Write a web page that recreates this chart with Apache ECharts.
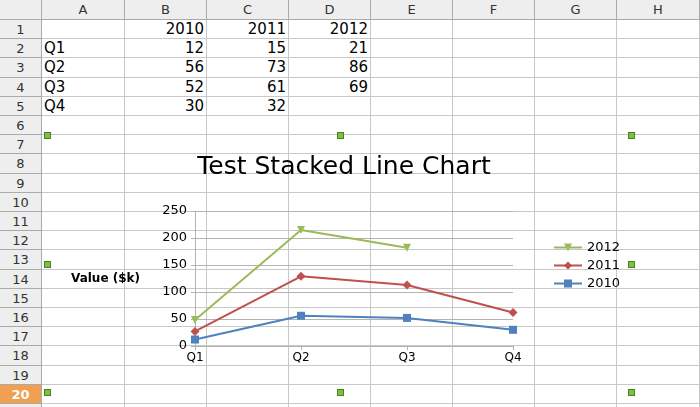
<!DOCTYPE html>
<html><head><meta charset="utf-8">
<script src="https://cdn.jsdelivr.net/npm/echarts@6/dist/echarts.min.js"></script>
<style>
body{margin:0;width:700px;height:407px;overflow:hidden;background:#fff;font-family:"DejaVu Sans",sans-serif;position:relative}
.c{position:absolute;box-sizing:border-box;border-right:1px solid #c8c8c8;border-bottom:1px solid #c8c8c8;font-size:15px;line-height:19px;white-space:nowrap;padding:0 2px;overflow:hidden}
.h{background:#eeeeee;color:#333;text-align:center;font-size:13px;border-color:#aaa}
.hs{background:#f0a050;color:#fff;font-weight:bold}
.hd{position:absolute;width:7px;height:7px;background:#7ec040;border:1px solid #4a8020;box-sizing:border-box;z-index:5}
#chart{position:absolute;left:0;top:0;width:700px;height:407px;z-index:3}
</style></head><body>
<div id="sheet"></div>
<div id="chart"></div>
<script>
const categories=['Q1','Q2','Q3','Q4'];
const years=['2010','2011','2012'];
const v2010=[12,56,52,30];
const v2011=[15,73,61,32];
const v2012=[21,86,69,null];
const yTicks=[0,50,100,150,200,250];

const sheet=document.getElementById('sheet');
const colX=[0,42,125,207,289,371,453,535,617,700];
const colNames=['','A','B','C','D','E','F','G','H'];
const rowH=19.2, top0=20;
function cell(x,y,w,h,txt,cls,align){const d=document.createElement('div');d.className='c '+(cls||'');d.style.left=x+'px';d.style.top=y+'px';d.style.width=w+'px';d.style.height=h+'px';if(align)d.style.textAlign=align;d.textContent=txt;sheet.appendChild(d);}
for(let i=0;i<9;i++)cell(colX[i],0,colX[i+1]-colX[i],top0,colNames[i],'h');
const table=[['',...years],...categories.map((q,i)=>[q,v2010[i],v2011[i],v2012[i]==null?'':v2012[i]])];
for(let r=1;r<=21;r++){
  const y=Math.round(top0+(r-1)*rowH), h=Math.round(top0+r*rowH)-y;
  cell(0,y,42,h,r<=20?String(r):'', r===20?'h hs':'h');
  for(let c=1;c<9;c++){
    let t='';const row=table[r-1];
    if(row&&c<=4){t=row[c-1]==null?'':String(row[c-1]);}
    cell(colX[c],y,colX[c+1]-colX[c],h,t,'',c===1?'left':'right');
  }
}
[[44,132],[337,132],[628,132],[44,261],[628,261],[44,389],[337,389],[628,389]].forEach(p=>{const d=document.createElement('div');d.className='hd';d.style.left=p[0]+'px';d.style.top=p[1]+'px';document.body.appendChild(d);});

const chart=echarts.init(document.getElementById('chart'),null,{renderer:'canvas'});
const colors={'2010':'#4f81bd','2011':'#c0504d','2012':'#9bbb59'};
const symbols={'2010':'rect','2011':'diamond','2012':'triangle'};
const vals={'2010':v2010,'2011':v2011,'2012':v2012};
chart.setOption({
  backgroundColor:'transparent',
  animation:false,
  title:{text:'Test Stacked Line Chart',left:339,top:150,textAlign:'center',textStyle:{fontFamily:'DejaVu Sans',fontSize:25,fontWeight:'normal',color:'#000'}},
  legend:{orient:'vertical',left:548,top:236,itemGap:5,itemWidth:28,itemHeight:10,data:['2012','2011','2010'],textStyle:{fontFamily:'DejaVu Sans',fontSize:13,color:'#000'}},
  grid:{left:195,right:187,top:211,bottom:61},
  xAxis:{type:'category',data:categories,boundaryGap:false,axisLine:{lineStyle:{color:'#b3b3b3'}},axisTick:{show:true,length:4,lineStyle:{color:'#b3b3b3'}},axisLabel:{color:'#000',fontSize:12,fontFamily:'DejaVu Sans',margin:6},splitLine:{show:false}},
  yAxis:{type:'value',min:0,max:250,interval:50,name:'Value ($k)',nameLocation:'middle',nameGap:55,nameRotate:0,nameTextStyle:{fontWeight:'bold',fontSize:12,fontFamily:'DejaVu Sans',color:'#000'},
    axisLine:{show:true,lineStyle:{color:'#b3b3b3'}},axisTick:{show:true,length:4,lineStyle:{color:'#b3b3b3'}},axisLabel:{color:'#000',fontSize:13,fontFamily:'DejaVu Sans',margin:8,formatter:v=>yTicks.includes(v)?String(v):''},splitLine:{lineStyle:{color:'#b3b3b3'}}},
  series:years.map(y=>({name:y,type:'line',stack:'total',data:vals[y],symbol:symbols[y],symbolSize:y==='2011'?9:8,symbolRotate:y==='2012'?180:0,color:colors[y],lineStyle:{width:2,color:colors[y]},itemStyle:{color:colors[y]},connectNulls:false}))
});
</script>
</body></html>
